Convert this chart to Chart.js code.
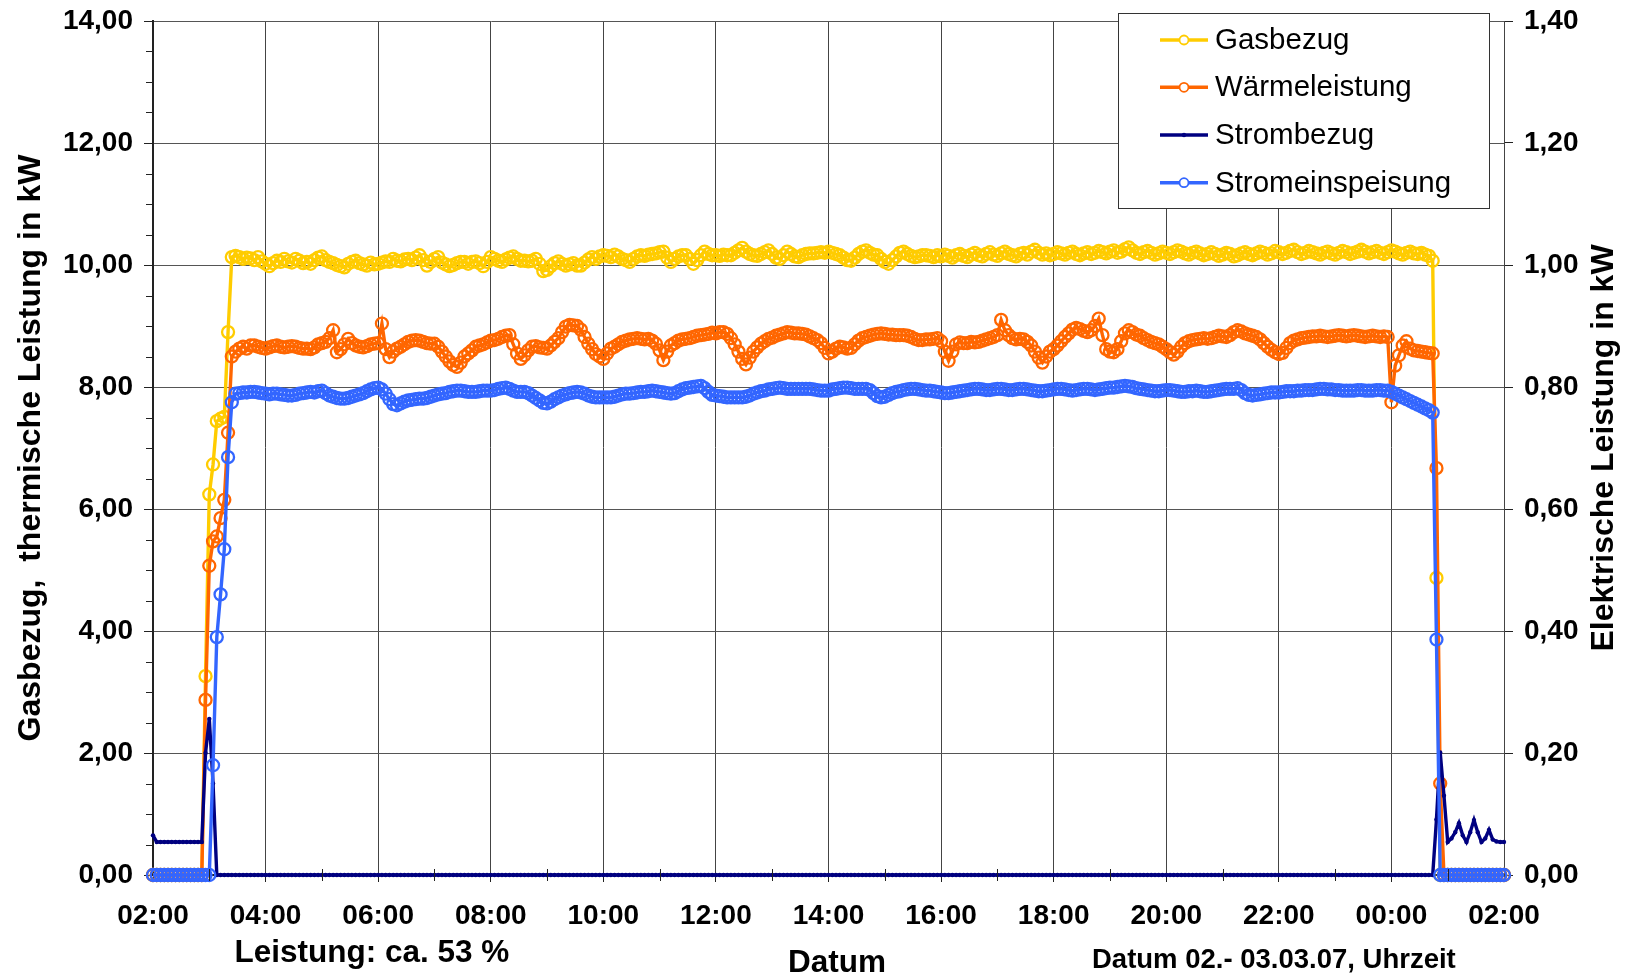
<!DOCTYPE html>
<html><head><meta charset="utf-8">
<script src="https://cdn.jsdelivr.net/npm/chart.js@4.4.0/dist/chart.umd.min.js"></script>
<style>html,body{margin:0;padding:0;background:#fff}canvas{display:block}</style>
</head><body>
<canvas id="c" width="1628" height="979"></canvas>
<script>
// Messintervall: 4 Minuten, ab 02:00 (Index 0) bis 02:00 Folgetag (Index 360)
const STEP_MIN = 4;
const xTickLabels = ['02:00','04:00','06:00','08:00','10:00','12:00','14:00','16:00','18:00','20:00','22:00','00:00','02:00'];
const leftTickLabels = ['0,00','2,00','4,00','6,00','8,00','10,00','12,00','14,00'];
const rightTickLabels = ['0,00','0,20','0,40','0,60','0,80','1,00','1,20','1,40'];
const seriesNames = ['Gasbezug','Wärmeleistung','Strombezug','Stromeinspeisung'];
const leftTitle = 'Gasbezug,  thermische Leistung in kW';
const rightTitle = 'Elektrische Leistung in kW';
const xTitle = 'Datum';
const noteLeft = 'Leistung: ca. 53 %';
const noteRight = 'Datum 02.- 03.03.07, Uhrzeit';

// Gasbezug in kW (linke Achse)
const gasbezug = [
0,0,0,0,0,0,0,0,0,0,0,0,0,0,3.26,
6.24,6.73,7.44,7.48,7.51,8.90,10.13,10.15,10.13,10.10,10.12,10.11,10.08,10.13,10.06,
10.02,9.98,10.03,10.07,10.05,10.10,10.06,10.04,10.10,10.07,10.03,10.05,10.02,10.08,10.12,
10.14,10.08,10.05,10.03,10.00,9.98,9.96,10.02,10.05,10.07,10.03,10.01,9.99,10.04,10.01,
10.02,10.04,10.06,10.05,10.10,10.07,10.06,10.09,10.10,10.08,10.12,10.16,10.08,9.99,10.05,
10.10,10.13,10.04,10.01,9.98,10.00,10.03,10.05,10.05,10.02,10.05,10.06,10.03,9.98,10.05,
10.13,10.10,10.07,10.05,10.09,10.12,10.14,10.10,10.07,10.07,10.06,10.07,10.10,10.02,9.90,
9.92,9.98,10.03,10.06,10.02,9.99,10.01,10.03,9.99,9.99,10.04,10.09,10.13,10.10,10.14,
10.16,10.15,10.13,10.17,10.14,10.10,10.08,10.05,10.10,10.14,10.16,10.15,10.17,10.18,10.19,
10.21,10.22,10.12,10.05,10.10,10.14,10.16,10.16,10.10,10.02,10.08,10.16,10.22,10.18,10.16,
10.16,10.15,10.17,10.16,10.16,10.20,10.24,10.28,10.22,10.18,10.16,10.15,10.18,10.21,10.24,
10.18,10.12,10.10,10.16,10.22,10.18,10.14,10.13,10.16,10.18,10.19,10.19,10.20,10.21,10.20,
10.22,10.20,10.18,10.16,10.12,10.08,10.07,10.12,10.18,10.22,10.24,10.20,10.17,10.16,10.10,
10.05,10.02,10.08,10.14,10.20,10.22,10.18,10.15,10.13,10.14,10.16,10.16,10.15,10.13,10.16,
10.14,10.17,10.15,10.12,10.16,10.18,10.15,10.13,10.17,10.20,10.16,10.14,10.18,10.21,10.17,
10.15,10.19,10.22,10.18,10.16,10.14,10.18,10.20,10.17,10.22,10.25,10.20,10.17,10.19,10.16,
10.18,10.21,10.19,10.17,10.20,10.22,10.18,10.16,10.19,10.21,10.18,10.20,10.23,10.21,10.19,
10.22,10.24,10.20,10.22,10.26,10.29,10.24,10.20,10.18,10.21,10.23,10.20,10.17,10.19,10.22,
10.20,10.18,10.21,10.24,10.22,10.19,10.17,10.20,10.22,10.19,10.16,10.18,10.21,10.18,10.15,
10.17,10.20,10.18,10.14,10.16,10.19,10.21,10.18,10.16,10.19,10.22,10.20,10.17,10.19,10.23,
10.21,10.18,10.20,10.23,10.25,10.21,10.18,10.20,10.23,10.21,10.19,10.17,10.20,10.22,10.19,
10.17,10.20,10.23,10.21,10.18,10.20,10.22,10.25,10.22,10.19,10.21,10.23,10.20,10.18,10.21,
10.24,10.22,10.19,10.17,10.20,10.22,10.19,10.18,10.20,10.17,10.15,10.07,4.87,0,0,
0,0,0,0,0,0,0,0,0,0,0,0,0,0,0,
0];

// Wärmeleistung in kW (linke Achse)
const waermeleistung = [
0,0,0,0,0,0,0,0,0,0,0,0,0,0,2.87,
5.07,5.47,5.55,5.85,6.15,7.25,8.50,8.58,8.63,8.66,8.63,8.68,8.68,8.66,8.64,
8.63,8.65,8.67,8.68,8.66,8.65,8.66,8.67,8.66,8.64,8.63,8.63,8.62,8.65,8.70,
8.72,8.74,8.80,8.93,8.57,8.62,8.70,8.79,8.72,8.68,8.66,8.65,8.67,8.70,8.71,
8.72,9.04,8.62,8.49,8.58,8.63,8.66,8.70,8.74,8.76,8.77,8.76,8.74,8.72,8.71,
8.71,8.66,8.58,8.50,8.42,8.36,8.33,8.40,8.50,8.55,8.60,8.66,8.68,8.70,8.73,
8.76,8.77,8.79,8.82,8.84,8.85,8.70,8.55,8.46,8.52,8.60,8.66,8.67,8.65,8.64,
8.63,8.68,8.74,8.80,8.90,8.99,9.02,9.01,9.00,8.94,8.82,8.71,8.62,8.54,8.50,
8.46,8.55,8.63,8.66,8.70,8.74,8.76,8.78,8.79,8.80,8.79,8.78,8.79,8.76,8.71,
8.60,8.44,8.58,8.68,8.72,8.76,8.78,8.79,8.80,8.82,8.84,8.85,8.86,8.87,8.89,
8.88,8.90,8.90,8.87,8.80,8.70,8.58,8.46,8.37,8.48,8.58,8.65,8.71,8.75,8.79,
8.81,8.84,8.86,8.88,8.90,8.89,8.88,8.88,8.87,8.86,8.83,8.80,8.77,8.72,8.64,
8.55,8.58,8.63,8.66,8.65,8.63,8.64,8.70,8.76,8.80,8.82,8.84,8.86,8.87,8.88,
8.87,8.86,8.86,8.85,8.85,8.85,8.84,8.82,8.79,8.77,8.77,8.78,8.78,8.79,8.80,
8.75,8.58,8.43,8.58,8.70,8.73,8.72,8.72,8.74,8.73,8.74,8.76,8.78,8.80,8.82,
8.85,9.10,8.93,8.85,8.80,8.78,8.79,8.78,8.74,8.68,8.58,8.48,8.40,8.50,8.58,
8.62,8.68,8.75,8.82,8.88,8.94,8.97,8.95,8.92,8.90,8.93,9.00,9.12,8.85,8.62,
8.58,8.57,8.62,8.75,8.88,8.93,8.90,8.86,8.84,8.80,8.77,8.74,8.72,8.70,8.66,
8.62,8.57,8.53,8.58,8.66,8.72,8.75,8.77,8.78,8.79,8.80,8.79,8.80,8.82,8.84,
8.83,8.82,8.85,8.90,8.93,8.91,8.88,8.86,8.84,8.82,8.78,8.72,8.66,8.61,8.57,
8.54,8.56,8.64,8.72,8.76,8.78,8.80,8.81,8.82,8.83,8.83,8.84,8.83,8.82,8.83,
8.84,8.85,8.84,8.83,8.84,8.85,8.84,8.83,8.82,8.83,8.84,8.83,8.82,8.83,8.82,
7.75,8.35,8.52,8.68,8.75,8.63,8.60,8.59,8.58,8.57,8.56,8.55,6.67,1.50,0,
0,0,0,0,0,0,0,0,0,0,0,0,0,0,0,
0];

// Strombezug in kW (rechte Achse)
const strombezug = [
0.065,0.054,0.054,0.054,0.054,0.054,0.054,0.054,0.054,0.054,0.054,0.054,0.054,0.054,0.20,
0.256,0.15,0,0,0,0,0,0,0,0,0,0,0,0,0,
0,0,0,0,0,0,0,0,0,0,0,0,0,0,0,
0,0,0,0,0,0,0,0,0,0,0,0,0,0,0,
0,0,0,0,0,0,0,0,0,0,0,0,0,0,0,
0,0,0,0,0,0,0,0,0,0,0,0,0,0,0,
0,0,0,0,0,0,0,0,0,0,0,0,0,0,0,
0,0,0,0,0,0,0,0,0,0,0,0,0,0,0,
0,0,0,0,0,0,0,0,0,0,0,0,0,0,0,
0,0,0,0,0,0,0,0,0,0,0,0,0,0,0,
0,0,0,0,0,0,0,0,0,0,0,0,0,0,0,
0,0,0,0,0,0,0,0,0,0,0,0,0,0,0,
0,0,0,0,0,0,0,0,0,0,0,0,0,0,0,
0,0,0,0,0,0,0,0,0,0,0,0,0,0,0,
0,0,0,0,0,0,0,0,0,0,0,0,0,0,0,
0,0,0,0,0,0,0,0,0,0,0,0,0,0,0,
0,0,0,0,0,0,0,0,0,0,0,0,0,0,0,
0,0,0,0,0,0,0,0,0,0,0,0,0,0,0,
0,0,0,0,0,0,0,0,0,0,0,0,0,0,0,
0,0,0,0,0,0,0,0,0,0,0,0,0,0,0,
0,0,0,0,0,0,0,0,0,0,0,0,0,0,0,
0,0,0,0,0,0,0,0,0,0,0,0,0,0,0,
0,0,0,0,0,0,0,0,0,0,0,0,0.091,0.201,0.13,
0.054,0.06,0.07,0.085,0.065,0.054,0.07,0.09,0.07,0.054,0.06,0.074,0.058,0.055,0.054,
0.054];

// Stromeinspeisung in kW (rechte Achse)
const stromeinspeisung = [
0,0,0,0,0,0,0,0,0,0,0,0,0,0,0,
0,0.18,0.39,0.46,0.534,0.685,0.775,0.789,0.790,0.791,0.791,0.792,0.792,0.791,0.790,
0.789,0.788,0.789,0.789,0.788,0.787,0.786,0.786,0.787,0.789,0.790,0.791,0.792,0.791,0.793,
0.794,0.790,0.786,0.784,0.782,0.781,0.781,0.782,0.784,0.786,0.788,0.790,0.793,0.796,0.798,
0.799,0.796,0.789,0.780,0.772,0.770,0.773,0.776,0.778,0.779,0.780,0.781,0.781,0.782,0.784,
0.786,0.788,0.789,0.790,0.792,0.793,0.794,0.794,0.793,0.792,0.792,0.792,0.793,0.794,0.794,
0.794,0.795,0.797,0.798,0.799,0.797,0.794,0.792,0.792,0.792,0.790,0.786,0.782,0.778,0.774,
0.773,0.776,0.780,0.783,0.786,0.788,0.790,0.791,0.792,0.791,0.789,0.786,0.784,0.783,0.783,
0.783,0.783,0.783,0.784,0.786,0.788,0.789,0.789,0.790,0.791,0.792,0.792,0.793,0.794,0.793,
0.792,0.791,0.790,0.789,0.790,0.793,0.796,0.798,0.799,0.800,0.801,0.802,0.798,0.792,0.787,
0.786,0.785,0.784,0.783,0.783,0.783,0.783,0.783,0.784,0.786,0.789,0.791,0.793,0.794,0.796,
0.797,0.798,0.799,0.798,0.797,0.797,0.797,0.797,0.797,0.797,0.797,0.796,0.795,0.794,0.794,
0.794,0.796,0.797,0.798,0.799,0.799,0.798,0.797,0.797,0.797,0.797,0.795,0.790,0.785,0.783,
0.784,0.787,0.790,0.792,0.793,0.795,0.796,0.797,0.797,0.796,0.795,0.794,0.794,0.793,0.792,
0.791,0.790,0.790,0.791,0.792,0.793,0.794,0.795,0.796,0.797,0.797,0.796,0.795,0.795,0.796,
0.797,0.797,0.796,0.795,0.795,0.796,0.797,0.797,0.796,0.795,0.794,0.793,0.793,0.794,0.795,
0.796,0.797,0.797,0.796,0.795,0.794,0.795,0.796,0.797,0.797,0.796,0.795,0.796,0.797,0.798,
0.799,0.799,0.800,0.801,0.802,0.801,0.800,0.798,0.797,0.796,0.795,0.794,0.793,0.793,0.794,
0.795,0.795,0.794,0.793,0.792,0.792,0.793,0.793,0.794,0.793,0.792,0.792,0.793,0.794,0.795,
0.796,0.797,0.797,0.797,0.798,0.795,0.790,0.787,0.786,0.787,0.788,0.789,0.790,0.791,0.791,
0.791,0.792,0.793,0.793,0.793,0.794,0.794,0.795,0.795,0.795,0.796,0.797,0.797,0.796,0.796,
0.795,0.795,0.794,0.794,0.794,0.794,0.795,0.795,0.794,0.794,0.794,0.795,0.795,0.794,0.794,
0.792,0.789,0.786,0.783,0.780,0.777,0.774,0.771,0.768,0.765,0.762,0.758,0.386,0,0,
0,0,0,0,0,0,0,0,0,0,0,0,0,0,0,
0];

const colors = ['#FFCC00','#FF6600','#000080','#3366FF'];
const FONT = '"Liberation Sans", Arial, Helvetica, sans-serif';

// Zeitachse in Stunden ab 02:00 (Abtastraster)
const toPoints = arr => arr.map((v, i) => ({ x: i * STEP_MIN / 60, y: v }));

function ds(idx, data, axis, circle) {
  return {
    label: seriesNames[idx], data: toPoints(data), yAxisID: axis,
    borderColor: colors[idx], borderWidth: 3.4, tension: 0, clip: 12,
    pointStyle: 'circle',
    pointRadius: circle ? 6 : 2.2,
    pointBorderWidth: circle ? 2.3 : 0,
    pointBorderColor: colors[idx],
    pointBackgroundColor: circle ? 'rgba(255,255,255,0)' : colors[idx],
    order: 3 - idx
  };
}

const extras = {
  id: 'extras',
  afterDraw(chart) {
    const { ctx, chartArea: a, scales } = chart;
    const x = scales.x, y = scales.y;
    ctx.save();
    ctx.strokeStyle = '#222'; ctx.lineWidth = 1;
    const ln = (x1, y1, x2, y2) => { ctx.beginPath(); ctx.moveTo(x1, y1); ctx.lineTo(x2, y2); ctx.stroke(); };
    // kleine Teilstriche links (0,5)
    for (let v = 0.5; v < 14; v += 0.5) {
      if (v % 2 === 0) continue;
      const py = Math.round(y.getPixelForValue(v)) + 0.5;
      ln(a.left - 7, py, a.left, py);
    }
    // kleine Teilstriche x (jede Stunde)
    for (let h = 1; h < 24; h += 2) {
      const px = Math.round(x.getPixelForValue(h)) + 0.5;
      ln(px, a.bottom - 6, px, a.bottom + 6);
    }
    // Legende
    const L = { x: 1118.5, y: 13.5, w: 371, h: 195 };
    ctx.fillStyle = '#fff'; ctx.fillRect(L.x, L.y, L.w, L.h);
    ctx.strokeStyle = '#333'; ctx.lineWidth = 1; ctx.strokeRect(L.x, L.y, L.w, L.h);
    const rows = [40, 87.3, 135, 182.7];
    ctx.font = '29.5px ' + FONT; ctx.textBaseline = 'middle'; ctx.textAlign = 'left';
    rows.forEach((ry, i) => {
      ctx.strokeStyle = colors[i]; ctx.lineWidth = 3.5;
      ln(1160, ry, 1208, ry);
      ctx.beginPath();
      if (i === 2) {
        ctx.fillStyle = colors[i]; ctx.arc(1184, ry, 2.2, 0, Math.PI * 2); ctx.fill();
      } else {
        ctx.fillStyle = '#fff'; ctx.lineWidth = 1.8;
        ctx.arc(1184, ry, 4.5, 0, Math.PI * 2); ctx.fill(); ctx.stroke();
      }
      ctx.fillStyle = '#000';
      ctx.fillText(seriesNames[i], 1215, ry + 1);
    });
    // Achsentitel
    ctx.font = 'bold 32px ' + FONT; ctx.textAlign = 'center'; ctx.textBaseline = 'middle';
    ctx.save(); ctx.translate(31, (a.top + a.bottom) / 2); ctx.rotate(-Math.PI / 2);
    ctx.fillText(leftTitle, 0, 0); ctx.restore();
    ctx.save(); ctx.translate(1604, (a.top + a.bottom) / 2); ctx.rotate(-Math.PI / 2);
    ctx.fillText(rightTitle, 0, 0); ctx.restore();
    // Texte unten
    ctx.font = 'bold 31.5px ' + FONT;
    ctx.textAlign = 'left'; ctx.fillText(noteLeft, 234.5, 953);
    ctx.textAlign = 'center'; ctx.fillText(xTitle, 837, 963);
    ctx.font = 'bold 27.5px ' + FONT;
    ctx.textAlign = 'left'; ctx.fillText(noteRight, 1092, 960);
    ctx.restore();
  }
};

const tickFont = { family: FONT, size: 28, weight: 'bold' };
const noPad = s => { s.paddingTop = 0; s.paddingBottom = 0; s.paddingLeft = 0; s.paddingRight = 0; };

new Chart(document.getElementById('c'), {
  type: 'line',
  data: {
    datasets: [
      ds(0, gasbezug, 'y', true),
      ds(1, waermeleistung, 'y', true),
      ds(2, strombezug, 'y2', false),
      ds(3, stromeinspeisung, 'y2', true)
    ]
  },
  options: {
    responsive: false, animation: false, devicePixelRatio: 1,
    layout: { padding: { top: 21, left: 0, right: 0, bottom: 0 } },
    plugins: { legend: { display: false }, tooltip: { enabled: false } },
    scales: {
      x: {
        type: 'linear', min: 0, max: 24,
        afterFit: s => { s.height = 104; noPad(s); },
        ticks: { stepSize: 2, autoSkip: false, maxRotation: 0, color: '#000', font: tickFont, padding: 17,
                 callback: (v, i) => xTickLabels[i] },
        grid: { color: '#444', lineWidth: 1, tickLength: 7, tickColor: '#222' },
        border: { color: '#222', width: 2 }
      },
      y: {
        position: 'left', min: 0, max: 14,
        afterFit: s => { s.width = 153; noPad(s); },
        ticks: { stepSize: 2, color: '#000', font: tickFont, padding: 11,
                 callback: (v, i) => leftTickLabels[i] },
        grid: { color: '#555', lineWidth: 1, tickLength: 9, tickColor: '#222' },
        border: { color: '#222', width: 2 }
      },
      y2: {
        position: 'right', min: 0, max: 1.4,
        afterFit: s => { s.width = 124; noPad(s); },
        ticks: { stepSize: 0.2, color: '#000', font: tickFont, padding: 11,
                 callback: (v, i) => rightTickLabels[i] },
        grid: { drawOnChartArea: false, tickLength: 9, tickColor: '#222' },
        border: { color: '#444', width: 1 }
      }
    }
  },
  plugins: [extras]
});
</script>
</body></html>
